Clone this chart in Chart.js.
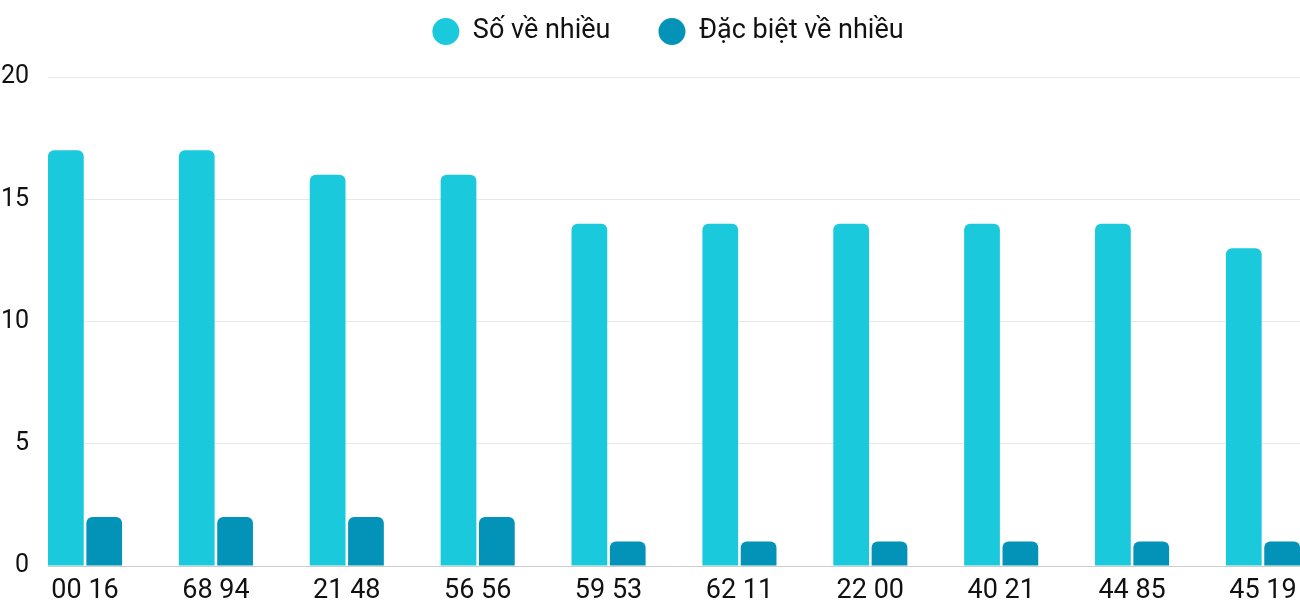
<!DOCTYPE html>
<html>
<head>
<meta charset="utf-8">
<script src="https://cdn.jsdelivr.net/npm/chart.js@4"></script>
<style>
  html, body { margin: 0; padding: 0; background: #fff; }
  #wrap { width: 1300px; height: 600px; }
</style>
</head>
<body>
<div id="wrap"><canvas id="chart-ve-nhieu"></canvas></div>
<script>
const labels = ['00 16', '68 94', '21 48', '56 56', '59 53', '62 11', '22 00', '40 21', '44 85', '45 19'];
const soVeNhieu = [17, 17, 16, 16, 14, 14, 14, 14, 14, 13];
const dacBietVeNhieu = [2, 2, 2, 2, 1, 1, 1, 1, 1, 1];
const yTicks = [0, 5, 10, 15, 20];

function toPoints(values) {
  return values.map(function(v, i) { return { x: i, y: v }; });
}

// legend padding is wide (for the gap between items), so cap its height
// and nudge it a bit right, like the original
const legendTweak = {
  id: 'legendTweak',
  afterInit(chart) {
    const legend = chart.legend;
    const fit = legend.fit;
    const draw = legend.draw;
    legend.fit = function() {
      fit.call(this);
      this.height = 107;
    };
    legend.draw = function() {
      this.ctx.save();
      this.ctx.translate(18, 0);
      draw.call(this);
      this.ctx.restore();
    };
  }
};

Chart.defaults.font.family = 'Roboto';
Chart.defaults.color = '#111';

const ctx = document.getElementById('chart-ve-nhieu');
new Chart(ctx, {
  type: 'bar',
  data: {
    datasets: [{
      label: 'Số về nhiều',
      data: toPoints(soVeNhieu),
      backgroundColor: '#1bc9dc',
      borderRadius: 6,
      categoryPercentage: 0.586,
      barPercentage: 0.932
    }, {
      label: 'Đặc biệt về nhiều',
      data: toPoints(dacBietVeNhieu),
      backgroundColor: '#0393b8',
      borderRadius: 6,
      categoryPercentage: 0.586,
      barPercentage: 0.932
    }]
  },
  plugins: [legendTweak],
  options: {
    responsive: true,
    maintainAspectRatio: false,
    animation: false,
    layout: { padding: { left: 0, right: 0, top: -30, bottom: -17 } },
    plugins: {
      tooltip: { enabled: false },
      legend: {
        position: 'top',
        labels: {
          usePointStyle: true,
          pointStyle: 'circle',
          boxHeight: 19,
          boxWidth: 27,
          pointStyleWidth: 27,
          padding: 48,
          color: '#111',
          font: { size: 27 }
        }
      }
    },
    scales: {
      x: {
        type: 'linear',
        offset: false,
        min: -0.283,
        max: 9.283,
        grid: { display: false, drawTicks: false, offset: false },
        border: { display: true, color: '#cccccc' },
        afterFit: function(axis) { axis.paddingLeft = 0; axis.paddingRight = 0; },
        ticks: {
          stepSize: 1,
          includeBounds: false,
          autoSkip: false,
          maxRotation: 0,
          padding: 9,
          color: '#111',
          font: { size: 27 },
          callback: function(value) { return labels[value] !== undefined ? labels[value] : ''; }
        }
      },
      y: {
        min: 0,
        max: 20,
        grid: { color: '#e8e8e8', drawTicks: false },
        border: { display: false },
        afterBuildTicks: function(axis) { axis.ticks = yTicks.map(function(v) { return { value: v }; }); },
        afterFit: function(axis) { axis.width = 48; },
        ticks: {
          padding: 19,
          color: '#111',
          font: { size: 25 }
        }
      }
    }
  }
});
</script>
</body>
</html>
